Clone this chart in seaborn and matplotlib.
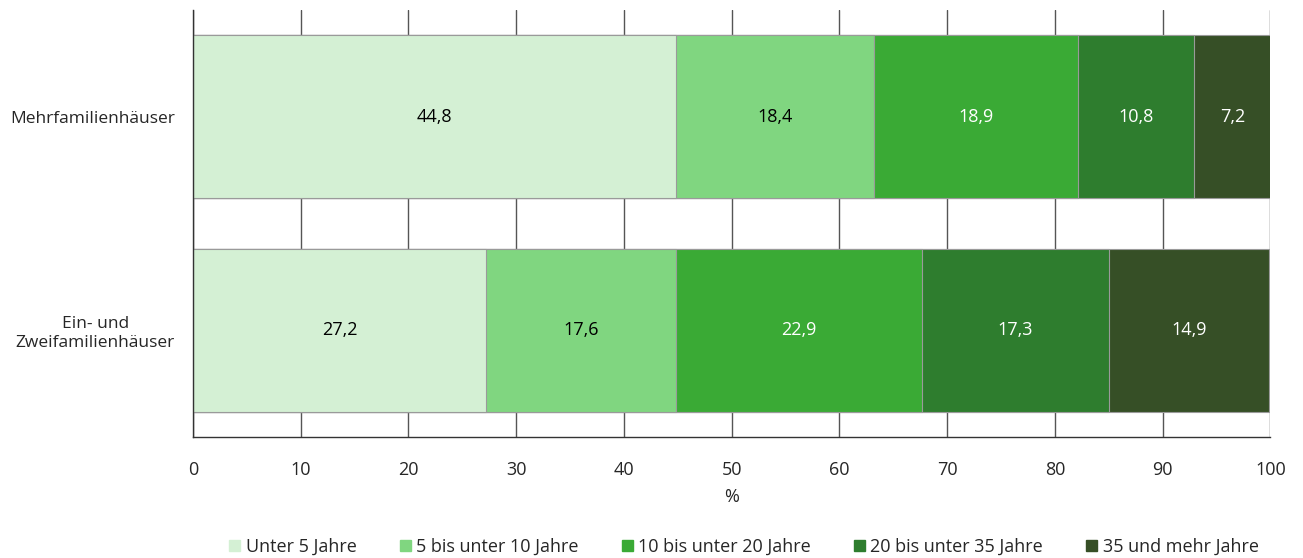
import pandas as pd
import matplotlib.pyplot as plt
import matplotlib.patches as mpatches
import seaborn as sbn

# Data
groups = ['Mehrfamilienhäuser', 'Ein- und\nZweifamilienhäuser']
categories = ['Unter 5 Jahre', '5 bis unter 10 Jahre', '10 bis unter 20 Jahre',
              '20 bis unter 35 Jahre', '35 und mehr Jahre']
mehrfam = [44.8, 18.4, 18.9, 10.8, 7.2]
einzwei = [27.2, 17.6, 22.9, 17.3, 14.9]
colors = ['#d4f0d4', '#80d680', '#3aaa35', '#2e7d2e', '#364f26']
label_colors = ['black', 'black', 'white', 'white', 'white']

df = pd.DataFrame([mehrfam, einzwei], index=groups, columns=categories)
cum = df.cumsum(axis=1)

sbn.set_style('white')
plt.rcParams['font.family'] = ['Open Sans', 'DejaVu Sans']

fig = plt.figure(figsize=(13.03, 5.58), dpi=100)
ax = fig.add_axes([0.148, 0.217, 0.827, 0.765])

# stacked bars: draw cumulative totals from the largest down
for i in reversed(range(len(categories))):
    plot_df = pd.DataFrame({'group': groups, 'value': cum.iloc[:, i].values})
    sbn.barplot(data=plot_df, x='value', y='group', orient='h', color=colors[i],
                width=0.765, edgecolor='#9a9a9a', linewidth=0.8, saturation=1,
                ax=ax, zorder=2)

# value labels
for r, g in enumerate(groups):
    for i, c in enumerate(categories):
        v = df.loc[g, c]
        ax.text(cum.loc[g, c] - v / 2, r, f'{v:.1f}'.replace('.', ','),
                ha='center', va='center', fontsize=13, color=label_colors[i])

ax.set_xlim(0, 100)
ax.set_ylim(1.5, -0.5)
ax.set_xticks(range(0, 101, 10))
ax.xaxis.grid(True, color='#555555', linewidth=1)
ax.set_axisbelow(True)
ax.tick_params(axis='x', length=0, labelsize=13, pad=17)
ax.tick_params(axis='y', length=0, labelsize=12.5, pad=13)
for lbl in ax.get_yticklabels():
    lbl.set_multialignment('center')
for s in ['top', 'right']:
    ax.spines[s].set_visible(False)
for s in ['left', 'bottom']:
    ax.spines[s].set_color('#333333')
    ax.spines[s].set_linewidth(1)
ax.set_xlabel('%', fontsize=13, labelpad=7)
ax.set_ylabel('')

handles = [mpatches.Patch(color=c, label=l) for c, l in zip(colors, categories)]
fig.legend(handles=handles, loc='lower center', bbox_to_anchor=(0.571, -0.025), ncol=5,
           frameon=False, fontsize=13, handlelength=0.6, handleheight=0.6,
           handletextpad=0.3, columnspacing=2.4)

fig.savefig('out.png', dpi=100)
